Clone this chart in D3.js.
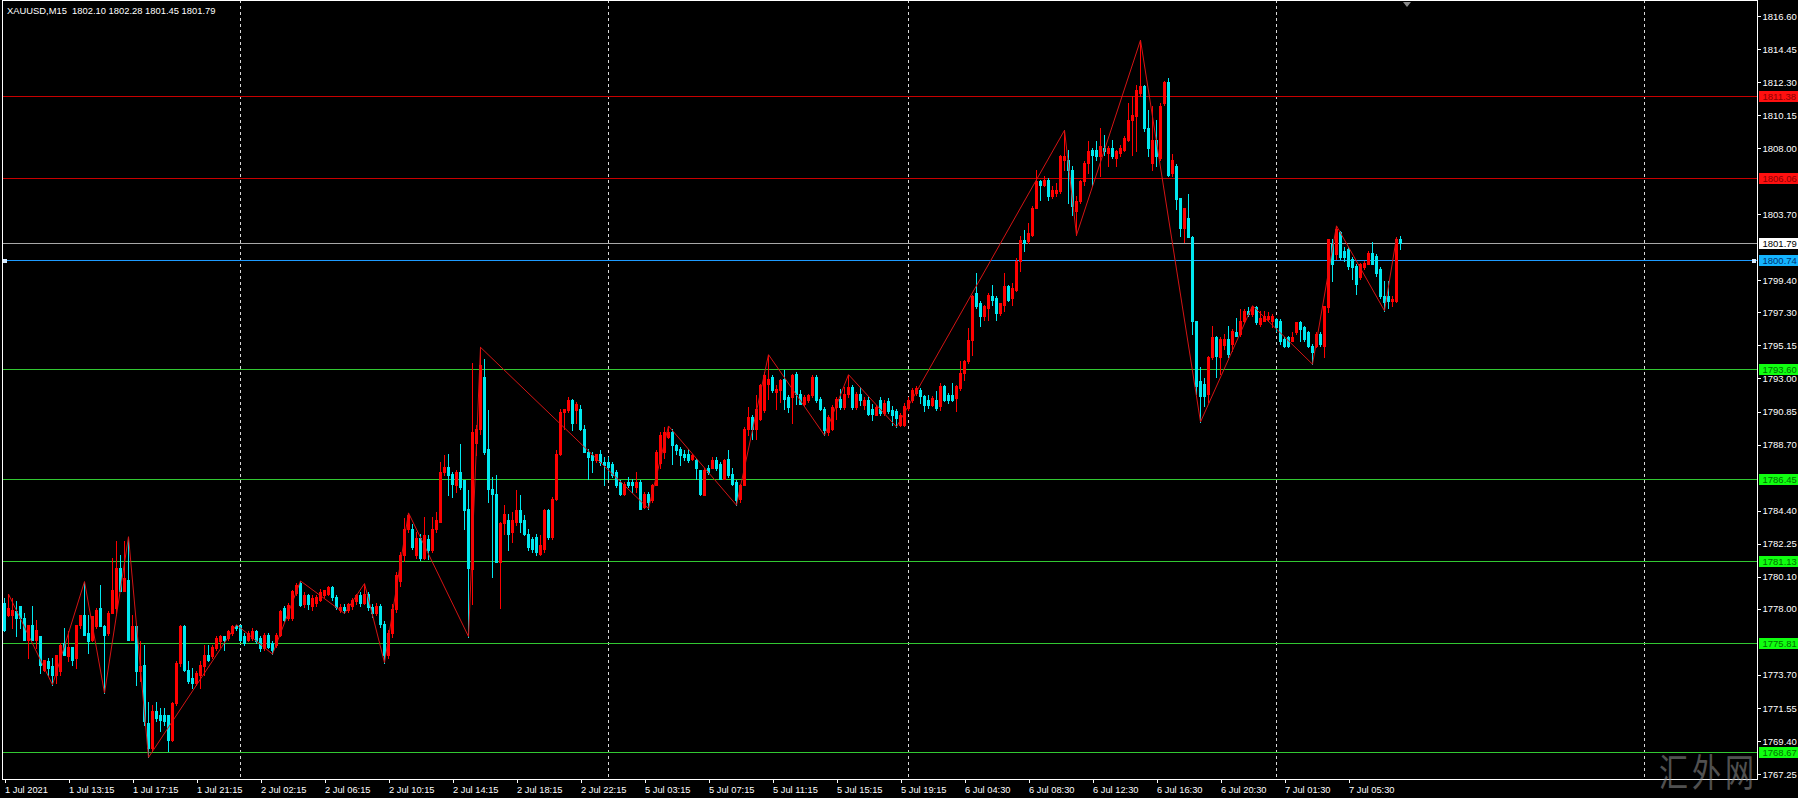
<!DOCTYPE html>
<html><head><meta charset="utf-8">
<script src="https://cdn.jsdelivr.net/npm/d3@7"></script>
<style>
html,body{margin:0;padding:0;background:#000;overflow:hidden;}
svg{display:block;}
text{font-family:"Liberation Sans",Arial,sans-serif;}
</style></head><body>
<svg id="chart" width="1798" height="798"></svg>
<script>
const titleText = "XAUUSD,M15  1802.10 1802.28 1801.45 1801.79";

const openP = [
1778.38,1777.62,1777.62,1777.83,1778.16,1777.40,1775.99,1776.97,1775.99,1776.21,
1774.04,1774.58,1774.25,1773.71,1773.93,1775.77,1774.91,1775.55,1774.80,1776.97,
1777.62,1776.42,1775.99,1776.86,1778.05,1776.86,1776.42,1777.73,1778.05,1780.65,
1779.14,1779.90,1775.99,1776.86,1773.93,1774.36,1770.56,1768.94,1771.32,1771.11,
1771.11,1771.11,1769.48,1771.87,1774.47,1776.86,1774.04,1773.50,1773.17,1773.71,
1774.25,1775.01,1774.91,1775.45,1775.88,1776.21,1776.10,1776.42,1776.86,1776.95,
1776.21,1775.99,1776.10,1776.53,1776.10,1775.45,1776.31,1775.77,1775.66,1776.31,
1778.05,1777.40,1777.40,1779.03,1779.68,1778.30,1778.90,1778.20,1778.40,1778.60,
1778.90,1779.00,1779.40,1778.80,1777.90,1778.10,1777.90,1778.20,1778.50,1778.90,
1778.40,1779.00,1778.10,1777.70,1778.20,1777.00,1775.00,1776.40,1778.00,1779.80,
1781.50,1783.20,1783.23,1781.50,1782.60,1781.30,1782.58,1781.82,1783.23,1783.66,
1786.92,1787.24,1786.81,1786.05,1786.92,1786.38,1784.53,1780.60,1788.80,1789.70,
1793.10,1788.44,1785.83,1785.51,1781.06,1783.56,1783.77,1783.01,1783.66,1784.42,
1783.77,1782.90,1782.58,1782.69,1781.60,1781.93,1784.42,1782.69,1785.18,1788.11,
1790.82,1790.93,1791.58,1790.93,1791.04,1789.74,1788.22,1788.00,1787.68,1788.11,
1787.57,1787.57,1787.46,1786.92,1786.27,1785.51,1786.27,1786.27,1785.94,1786.27,
1784.64,1785.51,1785.07,1786.05,1787.50,1788.20,1789.20,1789.52,1788.70,1788.44,
1788.11,1788.11,1787.79,1787.68,1787.03,1785.40,1787.14,1787.14,1787.68,1787.46,
1786.48,1787.79,1786.81,1786.27,1785.18,1786.05,1789.74,1790.50,1789.74,1790.39,
1790.93,1792.67,1793.10,1792.13,1792.24,1792.99,1791.80,1791.80,1793.32,1792.02,
1791.37,1791.58,1791.91,1793.10,1791.69,1791.04,1789.52,1789.74,1791.15,1791.69,
1791.15,1792.02,1792.45,1791.15,1792.02,1791.26,1791.58,1791.04,1790.61,1791.62,
1790.76,1791.51,1790.97,1790.87,1789.99,1790.00,1791.08,1791.62,1792.06,1792.28,
1791.84,1791.62,1791.30,1791.62,1791.19,1792.49,1791.95,1791.95,1791.73,1792.38,
1793.36,1794.12,1795.53,1798.57,1797.92,1797.05,1797.59,1798.35,1798.24,1797.27,
1797.81,1799.00,1798.24,1798.78,1800.63,1802.04,1801.93,1802.37,1804.10,1805.84,
1805.62,1805.95,1804.86,1805.08,1805.19,1807.25,1807.25,1806.60,1803.89,1804.54,
1805.84,1807.03,1807.90,1807.90,1807.47,1808.01,1807.68,1808.01,1807.36,1807.68,
1807.90,1808.55,1809.85,1810.07,1811.59,1812.02,1809.31,1807.03,1808.55,1807.36,
1810.94,1812.30,1806.41,1806.85,1804.78,1802.83,1803.48,1802.18,1796.76,1792.85,
1792.63,1791.98,1794.37,1795.67,1794.37,1795.20,1795.56,1795.23,1796.00,1795.89,
1796.76,1797.41,1797.19,1797.63,1796.54,1796.76,1796.87,1796.76,1796.87,1796.76,
1795.56,1795.67,1795.45,1796.00,1796.65,1796.32,1796.00,1795.13,1795.13,1795.89,
1795.13,1797.63,1801.75,1801.10,1802.51,1801.31,1801.42,1800.77,1800.34,1799.58,
1800.23,1800.44,1801.20,1800.99,1800.12,1798.38,1798.38,1798.06,1798.06,1802.10];

const highP = [
1778.70,1778.96,1778.70,1778.49,1778.16,1777.73,1776.97,1778.16,1777.29,1776.21,
1774.69,1774.80,1774.80,1775.01,1775.77,1776.75,1776.53,1775.55,1776.97,1777.62,
1779.78,1777.62,1777.51,1778.05,1779.57,1776.97,1777.83,1781.30,1782.40,1781.52,
1782.39,1782.70,1777.62,1776.86,1775.88,1775.66,1771.97,1771.76,1771.97,1771.54,
1771.54,1771.11,1771.97,1774.58,1776.97,1776.97,1774.58,1774.14,1773.93,1774.58,
1775.66,1775.66,1775.66,1776.21,1776.31,1776.21,1776.64,1776.97,1776.97,1776.95,
1776.42,1776.53,1776.75,1776.64,1776.21,1776.42,1776.42,1775.88,1776.42,1777.94,
1778.16,1778.38,1779.24,1779.70,1779.82,1779.10,1779.00,1778.90,1778.90,1779.30,
1779.20,1779.50,1779.50,1778.90,1778.30,1778.30,1778.40,1778.70,1779.00,1779.10,
1779.65,1779.10,1778.30,1778.40,1778.30,1777.20,1776.60,1778.30,1780.40,1781.70,
1783.90,1784.25,1783.55,1783.00,1782.90,1784.00,1782.79,1783.99,1784.31,1787.57,
1788.00,1788.11,1786.92,1787.03,1788.76,1786.38,1785.72,1794.00,1790.00,1795.03,
1794.30,1790.93,1786.59,1786.70,1783.66,1784.75,1784.20,1784.31,1785.72,1785.40,
1784.10,1783.23,1782.69,1782.90,1782.79,1784.53,1784.53,1785.29,1788.33,1791.04,
1791.04,1791.80,1791.69,1791.48,1791.26,1789.96,1788.44,1788.22,1788.11,1788.33,
1787.89,1787.89,1787.57,1787.03,1786.38,1786.27,1786.59,1786.48,1786.92,1786.38,
1785.62,1785.62,1786.16,1788.33,1789.50,1789.85,1789.91,1789.74,1788.76,1788.54,
1788.33,1788.44,1788.11,1787.79,1787.03,1787.14,1787.35,1787.89,1787.89,1787.57,
1787.79,1788.33,1787.14,1786.38,1786.16,1789.85,1791.15,1790.61,1791.91,1792.67,
1793.43,1794.55,1793.21,1792.56,1792.99,1793.54,1791.91,1793.32,1793.43,1792.24,
1791.91,1792.02,1793.21,1793.21,1791.80,1791.15,1790.61,1791.26,1791.80,1792.34,
1792.45,1793.25,1792.56,1792.13,1792.45,1791.80,1791.80,1791.37,1791.26,1791.80,
1791.60,1791.73,1791.19,1791.00,1790.76,1791.41,1791.80,1792.40,1792.50,1792.38,
1791.95,1791.95,1791.84,1792.17,1792.71,1792.60,1792.06,1792.71,1792.60,1794.12,
1794.23,1796.29,1798.46,1799.87,1798.03,1797.81,1798.57,1799.11,1798.35,1797.92,
1799.87,1799.11,1799.22,1800.85,1802.26,1802.69,1803.13,1804.21,1806.60,1805.95,
1806.17,1806.06,1805.51,1805.73,1807.58,1809.16,1807.90,1806.82,1804.86,1805.95,
1807.14,1808.44,1808.01,1808.44,1809.31,1808.88,1808.12,1808.55,1807.90,1808.23,
1808.77,1810.94,1811.37,1812.13,1815.03,1812.13,1810.50,1810.72,1809.85,1810.94,
1812.40,1812.56,1807.60,1806.95,1804.78,1804.13,1805.00,1802.29,1796.76,1793.72,
1793.00,1794.48,1796.43,1795.78,1795.67,1795.90,1796.43,1796.20,1796.97,1797.52,
1797.52,1797.63,1797.74,1797.70,1797.41,1797.41,1797.30,1797.19,1796.97,1796.87,
1795.67,1795.78,1796.00,1796.65,1796.76,1796.43,1796.11,1795.23,1796.00,1796.00,
1797.73,1802.07,1802.07,1802.94,1802.61,1801.53,1801.53,1800.88,1800.44,1800.55,
1800.66,1801.31,1801.86,1801.10,1800.23,1799.36,1799.36,1798.38,1802.18,1802.28];

const lowP = [
1776.53,1777.51,1776.75,1776.21,1776.75,1775.99,1774.80,1775.99,1775.45,1773.82,
1773.93,1773.60,1773.06,1773.17,1773.71,1775.01,1774.58,1774.36,1774.14,1776.75,
1776.31,1775.12,1775.88,1776.75,1776.86,1772.52,1776.31,1777.73,1777.62,1779.14,
1779.14,1775.99,1775.99,1773.06,1773.28,1770.46,1768.33,1768.72,1770.67,1770.02,
1770.46,1768.72,1769.37,1771.76,1774.25,1773.93,1773.17,1772.84,1773.06,1772.84,
1773.71,1774.58,1774.80,1775.34,1775.55,1775.34,1775.99,1776.31,1776.64,1775.88,
1775.66,1775.88,1775.99,1775.77,1775.23,1775.34,1775.45,1775.05,1775.55,1776.21,
1777.18,1777.29,1777.29,1778.92,1778.16,1778.10,1778.00,1777.90,1778.20,1778.50,
1778.80,1778.90,1778.60,1778.00,1777.80,1777.70,1777.80,1778.00,1778.30,1778.20,
1778.30,1777.90,1777.50,1777.60,1776.80,1774.50,1774.80,1776.20,1777.80,1779.50,
1781.10,1783.00,1781.93,1781.30,1781.20,1781.27,1781.27,1781.71,1783.01,1783.66,
1786.70,1785.40,1785.29,1785.62,1785.83,1783.23,1776.20,1778.30,1788.00,1789.40,
1788.11,1784.97,1780.08,1781.06,1778.06,1782.90,1781.82,1782.36,1783.45,1783.01,
1782.79,1781.82,1781.71,1781.49,1781.49,1781.71,1782.58,1782.58,1785.07,1788.00,
1789.74,1790.82,1789.63,1790.07,1789.63,1788.22,1786.48,1786.92,1787.57,1787.35,
1786.05,1786.48,1786.59,1785.94,1785.40,1785.40,1785.94,1785.62,1785.62,1784.60,
1784.60,1784.53,1784.97,1786.05,1787.20,1787.80,1789.10,1787.46,1788.11,1787.35,
1787.68,1787.57,1787.68,1786.48,1785.40,1785.40,1786.81,1787.14,1787.03,1786.48,
1786.48,1786.59,1786.05,1784.75,1784.97,1786.05,1789.31,1789.09,1789.09,1790.28,
1790.82,1791.69,1792.13,1791.04,1791.48,1791.04,1790.82,1790.07,1791.37,1791.37,
1791.26,1791.48,1791.80,1791.48,1790.93,1789.30,1789.35,1789.63,1790.39,1791.04,
1791.04,1791.80,1791.04,1791.04,1791.26,1791.04,1790.61,1790.28,1790.61,1790.60,
1790.60,1790.76,1789.95,1789.85,1789.89,1789.89,1790.97,1791.50,1791.95,1791.41,
1790.87,1791.08,1791.19,1790.97,1790.97,1791.51,1791.41,1791.51,1790.87,1792.28,
1792.93,1794.01,1794.55,1797.59,1796.40,1796.83,1796.83,1797.81,1796.83,1797.16,
1797.38,1798.03,1797.81,1798.68,1799.98,1801.28,1801.82,1802.26,1804.10,1804.65,
1805.51,1804.65,1804.75,1804.86,1805.08,1806.60,1804.43,1803.67,1802.33,1804.43,
1805.62,1806.39,1805.51,1807.25,1806.17,1807.58,1806.82,1807.36,1806.82,1807.47,
1807.79,1808.44,1807.58,1807.79,1811.37,1809.09,1807.50,1806.60,1806.82,1807.25,
1810.83,1806.17,1806.20,1804.03,1802.29,1801.86,1802.18,1795.89,1791.98,1790.17,
1791.20,1791.50,1794.26,1793.07,1793.29,1794.90,1794.37,1794.80,1795.78,1795.78,
1796.65,1797.08,1797.08,1796.54,1796.43,1796.76,1796.76,1796.32,1796.11,1795.23,
1795.02,1795.02,1795.45,1795.89,1795.45,1795.45,1795.02,1793.93,1795.02,1795.13,
1794.37,1797.30,1799.36,1800.77,1800.77,1800.66,1800.12,1799.47,1798.49,1799.47,
1800.12,1800.44,1800.44,1799.69,1798.27,1797.41,1797.62,1797.70,1797.95,1801.45];

const closeP = [
1776.64,1778.05,1777.94,1777.40,1777.40,1775.99,1776.97,1775.99,1776.64,1774.36,
1774.69,1774.14,1773.71,1775.01,1775.66,1775.01,1775.55,1774.69,1776.97,1777.62,
1776.31,1775.88,1777.51,1777.94,1776.86,1776.31,1777.73,1779.24,1780.65,1779.14,
1780.00,1775.99,1776.86,1773.93,1774.25,1770.67,1768.94,1771.32,1770.89,1770.78,
1770.67,1769.48,1771.87,1774.47,1776.86,1774.04,1773.28,1773.17,1773.82,1774.36,
1775.01,1774.69,1775.55,1776.10,1776.21,1775.99,1776.53,1776.86,1776.75,1775.99,
1775.77,1776.42,1776.53,1775.88,1775.45,1776.31,1775.55,1775.34,1776.31,1777.83,
1777.29,1778.27,1779.14,1779.57,1778.27,1778.90,1778.30,1778.70,1778.80,1779.10,
1779.20,1779.40,1778.80,1778.10,1778.10,1777.90,1778.30,1778.60,1778.90,1778.40,
1779.00,1778.10,1777.70,1778.20,1777.00,1775.00,1776.40,1778.00,1780.20,1781.50,
1783.20,1784.10,1782.04,1782.60,1781.30,1782.79,1781.82,1783.23,1783.77,1786.92,
1787.24,1786.70,1786.16,1786.92,1785.94,1784.42,1780.63,1789.50,1789.70,1793.90,
1788.22,1785.83,1785.51,1781.06,1783.56,1784.20,1782.90,1783.77,1784.42,1783.66,
1782.90,1782.04,1781.93,1781.71,1782.14,1784.42,1782.69,1785.18,1788.11,1790.82,
1791.04,1791.58,1790.07,1791.37,1789.74,1788.22,1787.89,1787.68,1788.11,1787.57,
1787.35,1787.24,1786.70,1786.05,1785.51,1786.16,1786.05,1786.05,1786.27,1784.53,
1785.51,1784.97,1786.05,1788.22,1789.30,1789.50,1789.50,1788.65,1788.33,1788.00,
1787.89,1787.68,1788.00,1787.14,1785.51,1787.03,1786.92,1787.68,1787.14,1786.48,
1787.68,1786.70,1786.16,1785.07,1786.05,1789.74,1790.50,1789.74,1791.04,1792.56,
1793.21,1792.99,1792.24,1792.34,1792.89,1791.69,1791.15,1793.21,1792.02,1791.37,
1791.80,1791.91,1793.10,1791.58,1791.04,1789.63,1790.50,1791.15,1791.69,1791.15,
1792.02,1792.45,1791.15,1792.02,1791.58,1791.58,1790.72,1790.72,1791.15,1790.76,
1791.41,1790.87,1790.65,1790.43,1790.65,1791.19,1791.62,1792.28,1792.38,1791.84,
1791.30,1791.30,1791.73,1791.08,1792.49,1791.62,1791.62,1791.62,1792.49,1793.36,
1794.12,1795.53,1798.35,1797.70,1797.05,1797.70,1798.46,1798.14,1797.27,1797.92,
1799.00,1798.14,1798.89,1800.63,1802.04,1801.82,1802.47,1804.10,1805.84,1805.62,
1805.95,1804.86,1805.30,1805.30,1807.47,1807.47,1806.60,1804.21,1804.54,1805.84,
1807.03,1807.79,1807.58,1807.47,1808.12,1807.79,1808.01,1807.47,1807.79,1808.01,
1808.66,1809.85,1810.18,1811.81,1812.02,1809.31,1808.00,1808.55,1807.47,1810.72,
1812.30,1806.28,1807.20,1804.68,1802.83,1804.13,1802.18,1796.76,1792.52,1791.87,
1791.87,1794.37,1795.67,1794.48,1795.56,1795.60,1794.59,1796.11,1795.78,1796.76,
1797.41,1797.19,1797.63,1796.65,1796.97,1797.08,1797.08,1797.08,1796.32,1795.45,
1795.13,1795.13,1795.67,1796.65,1796.22,1795.56,1795.13,1794.70,1795.89,1795.23,
1797.73,1802.07,1800.44,1802.72,1800.88,1800.88,1800.34,1800.23,1799.14,1800.44,
1800.55,1801.20,1800.44,1799.90,1798.38,1797.95,1798.06,1798.17,1802.07,1801.79];

const zigzagBars   = [1,12,20,25,31,36,58,67,74,85,90,95,101,116,119,161,166,183,191,205,211,223,265,268,284,299,312,327,333,345,348];
const zigzagPrices = [1778.96,1773.06,1779.78,1772.52,1782.70,1768.33,1776.97,1775.05,1779.82,1777.70,1779.65,1774.50,1784.25,1776.20,1795.03,1784.53,1789.91,1784.75,1794.55,1789.30,1793.25,1789.85,1809.16,1802.33,1815.03,1790.17,1797.74,1793.93,1802.94,1797.41,1802.18];

const timeTickBars = [0,16,32,48,64,80,96,112,128,144,160,176,192,208,224,240,256,272,288,304,320,336];
const timeTickLabels = ["1 Jul 2021","1 Jul 13:15","1 Jul 17:15","1 Jul 21:15","2 Jul 02:15","2 Jul 06:15","2 Jul 10:15","2 Jul 14:15","2 Jul 18:15","2 Jul 22:15","5 Jul 03:15","5 Jul 07:15","5 Jul 11:15","5 Jul 15:15","5 Jul 19:15","6 Jul 04:30","6 Jul 08:30","6 Jul 12:30","6 Jul 16:30","6 Jul 20:30","7 Jul 01:30","7 Jul 05:30"];
const daySeparatorBars = [59,151,226,318,410];

const priceTicks = [1816.60,1814.45,1812.30,1810.15,1808.00,1805.85,1803.70,1801.55,1799.40,1797.30,1795.15,1793.00,1790.85,1788.70,1786.55,1784.40,1782.25,1780.10,1778.00,1775.85,1773.70,1771.55,1769.40,1767.25];

const resistanceLevels = [1811.38, 1806.06];
const supportLevels = [1793.60, 1786.45, 1781.13, 1775.81, 1768.67];
const bidPrice = 1801.79;
const markerPrice = 1800.74;
const watermarkText = "汇外网";

// ---------- drawing ----------
const W = 1798, H = 798;
const plotRight = 1757, plotBottom = 779;
const FONT = '"Liberation Sans",Arial,sans-serif';
const svg = d3.select("#chart");
svg.append("rect").attr("width", W).attr("height", H).attr("fill", "#000");

const x = d3.scaleLinear().domain([0, 438]).range([4, 4 + 4 * 438]);
const y = d3.scaleLinear().domain([1767.25, 1816.60]).range([774, 16]);
const ry = p => Math.round(y(p));

const bars = d3.range(openP.length).map(i => ({i, o: openP[i], h: highP[i], l: lowP[i], c: closeP[i]}));

const g = svg.append("g").attr("shape-rendering", "crispEdges");

// day separators
g.selectAll("line.sep").data(daySeparatorBars).join("line")
  .attr("x1", d => x(d) + 0.5).attr("x2", d => x(d) + 0.5)
  .attr("y1", 0).attr("y2", plotBottom)
  .attr("stroke", "#d8d8d8").attr("stroke-width", 1).attr("stroke-dasharray", "3,3");

// horizontal levels
const levelLine = (p, color) => g.append("line")
  .attr("x1", 3).attr("x2", plotRight).attr("y1", ry(p) + 0.5).attr("y2", ry(p) + 0.5)
  .attr("stroke", color).attr("stroke-width", 1);
resistanceLevels.forEach(p => levelLine(p, "#c80000"));
supportLevels.forEach(p => levelLine(p, "#32c832"));
levelLine(bidPrice, "#a8a8a8");
levelLine(markerPrice, "#1e9bff");
[3, plotRight - 5].forEach(px => g.append("rect").attr("x", px).attr("y", ry(markerPrice) - 1.5)
  .attr("width", 4).attr("height", 4).attr("fill", "#d8ecff"));

// candles
const colorOf = d => d.c > d.o ? "#ff0000" : (d.c < d.o ? "#00e8f0" : "#b0b0b0");
g.selectAll("rect.wick").data(bars).join("rect")
  .attr("x", d => x(d.i)).attr("width", 1)
  .attr("y", d => ry(d.h)).attr("height", d => Math.max(1, ry(d.l) - ry(d.h) + 1))
  .attr("fill", colorOf);
g.selectAll("rect.body").data(bars).join("rect")
  .attr("x", d => x(d.i) - 1).attr("width", 3)
  .attr("y", d => ry(Math.max(d.o, d.c)))
  .attr("height", d => Math.max(1, ry(Math.min(d.o, d.c)) - ry(Math.max(d.o, d.c)) + 1))
  .attr("fill", colorOf);

// zigzag
const zz = zigzagBars.map((b, k) => [b, zigzagPrices[k]]);
svg.append("path").datum(zz)
  .attr("d", d3.line().x(d => x(d[0]) + 0.5).y(d => y(d[1])))
  .attr("fill", "none").attr("stroke", "#d41414").attr("stroke-width", 1);

// frame
svg.append("path").attr("d", `M2.5,0.5H${plotRight + 0.5}V${plotBottom + 0.5}H2.5Z`)
  .attr("fill", "none").attr("stroke", "#ffffff").attr("stroke-width", 1).attr("shape-rendering", "crispEdges");

// right price axis (ticks hidden under a price label box are skipped, as in the original)
const boxPrices = resistanceLevels.concat(supportLevels, [bidPrice, markerPrice]);
const visibleTicks = priceTicks.filter(t => boxPrices.every(b => Math.abs(y(t) - y(b)) > 6));
const yAxis = d3.axisRight(y).tickValues(visibleTicks).tickFormat(d3.format(".2f")).tickSize(3).tickPadding(2);
const ya = svg.append("g").attr("transform", `translate(${plotRight + 0.5},0)`).call(yAxis);
ya.select(".domain").remove();
ya.selectAll(".tick line").attr("stroke", "#fff").attr("shape-rendering", "crispEdges");
ya.selectAll(".tick text").attr("fill", "#fff")
  .style("font-size", "9.5px").style("font-family", FONT);

// bottom time axis
const xAxis = d3.axisBottom(x).tickValues(timeTickBars).tickFormat((d, k) => timeTickLabels[k]).tickSize(3).tickPadding(4);
const xa = svg.append("g").attr("transform", `translate(0.5,${plotBottom + 0.5})`).call(xAxis);
xa.select(".domain").remove();
xa.selectAll(".tick line").attr("stroke", "#fff").attr("shape-rendering", "crispEdges");
xa.selectAll(".tick text").attr("fill", "#fff").attr("text-anchor", "start").attr("x", 0)
  .style("font-size", "9.3px").style("font-family", FONT);

// price label boxes
const priceBox = (p, bg, fg) => {
  const yy = ry(p);
  svg.append("rect").attr("x", plotRight + 2).attr("y", yy - 5).attr("width", W - plotRight - 2).attr("height", 11)
    .attr("fill", bg).attr("shape-rendering", "crispEdges");
  svg.append("text").attr("x", plotRight + 5.5).attr("y", yy + 4).attr("fill", fg)
    .style("font-size", "9.5px").style("font-family", FONT)
    .text(d3.format(".2f")(p));
};
resistanceLevels.forEach(p => priceBox(p, "#ff1010", "#8c0000"));
supportLevels.forEach(p => priceBox(p, "#10ff10", "#007000"));
priceBox(bidPrice, "#ffffff", "#000000");
priceBox(markerPrice, "#14b4ff", "#00306e");

// title
svg.append("text").attr("x", 7).attr("y", 14).attr("fill", "#fff")
  .style("white-space", "pre").style("font-size", "9.4px").style("font-family", FONT)
  .text(titleText);

// shift marker
svg.append("path").attr("d", `M${x(350) - 1},2 h8 l-4,5 z`).attr("fill", "#8a8a8a");

// watermark
svg.append("text").attr("transform", "translate(1659,786) scale(1,1.3)")
  .attr("fill", "#a0a0a0").attr("opacity", 0.5)
  .style("font-family", '"Noto Sans CJK SC",sans-serif').style("font-size", "29px").style("letter-spacing", "4px")
  .text(watermarkText);
</script>
</body></html>
